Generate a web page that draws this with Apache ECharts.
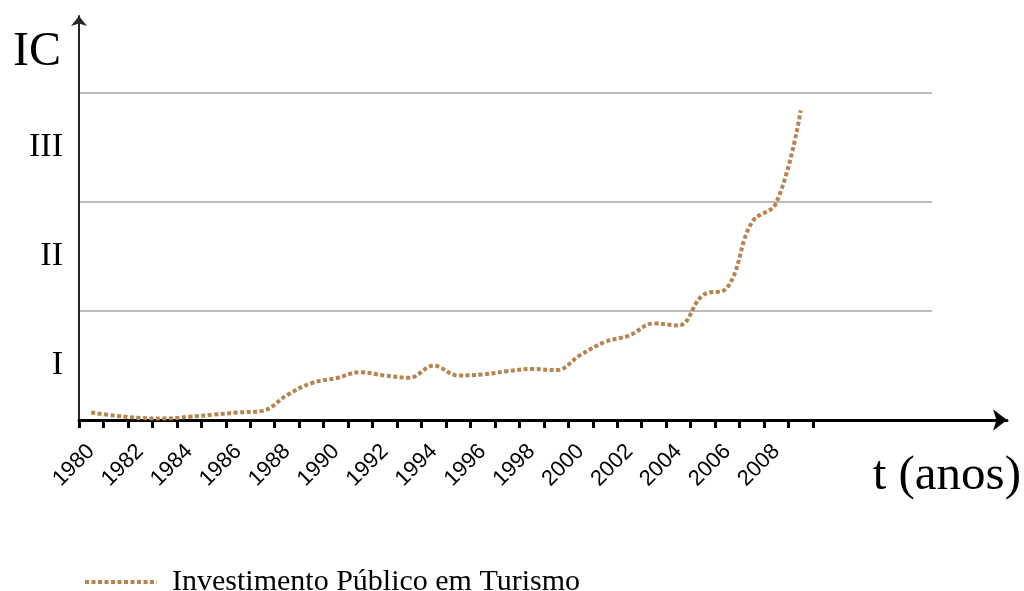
<!DOCTYPE html>
<html>
<head>
<meta charset="utf-8">
<script src="https://cdn.jsdelivr.net/npm/echarts@6/dist/echarts.min.js"></script>
<style>
  html, body { margin: 0; padding: 0; background: #ffffff; }
  #chart { width: 1024px; height: 591px; }
</style>
</head>
<body>
<div id="chart"></div>
<script>
// Years on the horizontal axis
const years = ['1980','1981','1982','1983','1984','1985','1986','1987','1988','1989',
               '1990','1991','1992','1993','1994','1995','1996','1997','1998','1999',
               '2000','2001','2002','2003','2004','2005','2006','2007','2008','2009'];
// Index level (IC) per year
const investimento = [0.06, 0.03, 0.01, 0.005, 0.02, 0.04, 0.06, 0.075, 0.22, 0.33,
                      0.375, 0.43, 0.40, 0.38, 0.49, 0.40, 0.41, 0.44, 0.46, 0.45,
                      0.59, 0.71, 0.77, 0.88, 0.86, 1.14, 1.21, 1.81, 1.99, 2.84];
// Band labels on the vertical axis
const bandLabels = ['I', 'II', 'III'];
const seriesName = 'Investimento Público em Turismo';

const serif = "'Liberation Serif', 'DejaVu Serif', serif";
const sans = "'Liberation Sans', Arial, sans-serif";
const lineColor = '#b8834f';

const chart = echarts.init(document.getElementById('chart'), null, { renderer: 'canvas' });

chart.setOption({
  animation: false,
  backgroundColor: '#ffffff',
  grid: [
    // band lines
    { left: 80, right: 92, top: 93, bottom: 172 },
    // data area with yearly categories
    { left: 79, width: 734, top: 93, bottom: 172 },
    // arrowed axes
    { left: 79, right: 17, top: 16, bottom: 171 }
  ],
  xAxis: [
    { gridIndex: 0, type: 'value', show: false, min: 0, max: 1 },
    {
      gridIndex: 1, type: 'category', data: years, boundaryGap: true,
      axisLine: { show: false },
      axisTick: { show: true, interval: 0, length: 9, lineStyle: { color: '#000', width: 3 } },
      axisLabel: { interval: 1, rotate: 45, margin: 29, fontSize: 22, fontFamily: sans, color: '#000' },
      splitLine: { show: false }
    },
    {
      gridIndex: 2, type: 'value', min: 0, max: 1,
      axisLine: { show: true, symbol: ['none', 'arrow'], symbolSize: [16, 14], lineStyle: { color: '#000', width: 3 } },
      axisTick: { show: false }, axisLabel: { show: false }, splitLine: { show: false },
      name: 't (anos)', nameLocation: 'end', nameGap: 14,
      nameTextStyle: { fontFamily: serif, fontSize: 49, color: '#000', align: 'right', verticalAlign: 'top', padding: [32, 0, 0, 0] }
    }
  ],
  yAxis: [
    {
      gridIndex: 0, type: 'value', min: 0, max: 3, interval: 1,
      axisLine: { show: false }, axisTick: { show: false }, axisLabel: { show: false },
      splitLine: { show: true, showMinLine: false, lineStyle: { color: '#a6a6a6', width: 1.5 } }
    },
    { gridIndex: 1, type: 'value', min: 0, max: 3, show: false },
    {
      gridIndex: 0, type: 'category', data: bandLabels, boundaryGap: true, position: 'left',
      axisLine: { show: false }, axisTick: { show: false }, splitLine: { show: false },
      axisLabel: { margin: 17, fontSize: 34, fontFamily: serif, color: '#000' }
    },
    {
      gridIndex: 2, type: 'value', min: 0, max: 1,
      axisLine: { show: true, symbol: ['none', 'arrow'], symbolSize: [12, 10], lineStyle: { color: '#262626', width: 2 } },
      axisTick: { show: false }, axisLabel: { show: false }, splitLine: { show: false },
      name: 'IC', nameLocation: 'end', nameGap: -36,
      nameTextStyle: { fontFamily: serif, fontSize: 48, color: '#000', align: 'right', verticalAlign: 'middle', padding: [0, 18, 0, 0] }
    }
  ],
  legend: {
    left: 78, top: 562,
    itemWidth: 72, itemHeight: 1, itemGap: 20,
    itemStyle: { opacity: 0 },
    lineStyle: { color: lineColor, width: 4, type: [4, 2.5] },
    textStyle: { fontFamily: serif, fontSize: 30, color: '#000', padding: [0, 0, 0, 10] },
    data: [seriesName]
  },
  series: [
    {
      name: seriesName,
      type: 'line',
      xAxisIndex: 1, yAxisIndex: 1,
      data: investimento,
      smooth: 0.4,
      symbol: 'none',
      lineStyle: { color: lineColor, width: 4, type: [4, 2.5] },
      itemStyle: { color: lineColor }
    }
  ]
});
</script>
</body>
</html>
